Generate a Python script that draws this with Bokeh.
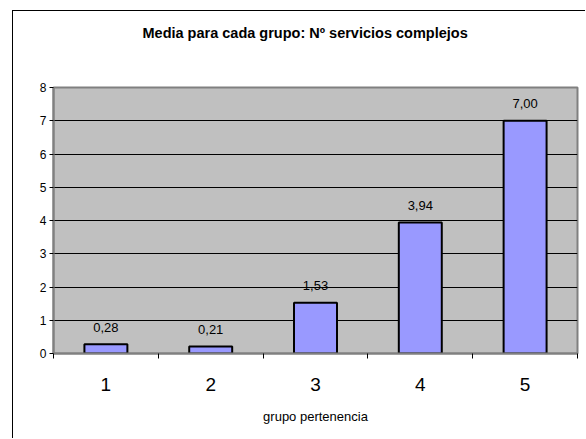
from bokeh.plotting import figure
from bokeh.models import ColumnDataSource, FixedTicker, LabelSet, Range1d, Title
from bokeh.core.properties import value
from bokeh.embed import file_html
from bokeh.resources import INLINE

grupos = [1, 2, 3, 4, 5]
medias = [0.28, 0.21, 1.53, 3.94, 7.00]
etiquetas = ["0,28", "0,21", "1,53", "3,94", "7,00"]
y_ticks = [0, 1, 2, 3, 4, 5, 6, 7, 8]
titulo = "Media para cada grupo: Nº servicios complejos"
eje_x = "grupo pertenencia"

FONT = "Liberation Sans"

src = ColumnDataSource(dict(x=grupos, y=medias, lab=etiquetas))

p = figure(width=573, height=428, output_backend="svg", toolbar_location=None,
           x_range=Range1d(0.5, 5.5), y_range=Range1d(0, 8),
           min_border_left=40, min_border_right=9, min_border_top=76, min_border_bottom=86)
p.styles = {"margin-left": "12px", "margin-top": "10px",
            "border-left": "1px solid black", "border-top": "1px solid black"}

# spacer between frame and title, then the title itself
p.add_layout(Title(text=" ", text_font_size="10px", standoff=34), "above")
p.add_layout(Title(text=titulo, align="left", offset=89, standoff=0,
                   text_font=FONT, text_font_size="14.5px", text_font_style="bold",
                   text_color="black"), "above")

p.background_fill_color = "#C0C0C0"
p.border_fill_color = "white"
p.outline_line_color = "#808080"
p.outline_line_width = 2

p.vbar(x="x", top="y", width=0.41, bottom=0, source=src,
       fill_color="#9999FF", line_color="black", line_width=2)

p.add_layout(LabelSet(x="x", y="y", text="lab", source=src, y_offset=17,
                      text_align="center", text_baseline="middle",
                      text_font=value(FONT), text_font_size="13px", text_color="black"))

# y axis
p.yaxis.ticker = FixedTicker(ticks=y_ticks)
p.yaxis.major_tick_out = 4
p.yaxis.major_tick_in = 0
p.yaxis.minor_tick_line_color = None
p.yaxis.axis_line_color = "#808080"
p.yaxis.axis_line_width = 2
p.yaxis.major_label_text_font = FONT
p.yaxis.major_label_text_font_size = "12px"
p.yaxis.major_label_text_color = "black"
p.yaxis.major_label_standoff = 3

# x axis
p.xaxis.ticker = FixedTicker(ticks=grupos, minor_ticks=[0.5, 1.5, 2.5, 3.5, 4.5, 5.5])
p.xaxis.major_tick_out = 0
p.xaxis.major_tick_in = 0
p.xaxis.minor_tick_out = 5
p.xaxis.minor_tick_in = 0
p.xaxis.minor_tick_line_color = "black"
p.xaxis.axis_line_color = "#808080"
p.xaxis.axis_line_width = 2
p.xaxis.major_label_text_font = FONT
p.xaxis.major_label_text_font_size = "19px"
p.xaxis.major_label_text_color = "black"
p.xaxis.major_label_standoff = 19
p.xaxis.axis_label = eje_x
p.xaxis.axis_label_text_font = FONT
p.xaxis.axis_label_text_font_size = "13px"
p.xaxis.axis_label_text_font_style = "normal"
p.xaxis.axis_label_text_color = "black"
p.xaxis.axis_label_standoff = 15

p.xgrid.grid_line_color = None
p.ygrid.ticker = FixedTicker(ticks=y_ticks)
p.ygrid.grid_line_color = "black"
p.ygrid.grid_line_width = 1

open("out.html", "w").write(file_html(p, INLINE))
